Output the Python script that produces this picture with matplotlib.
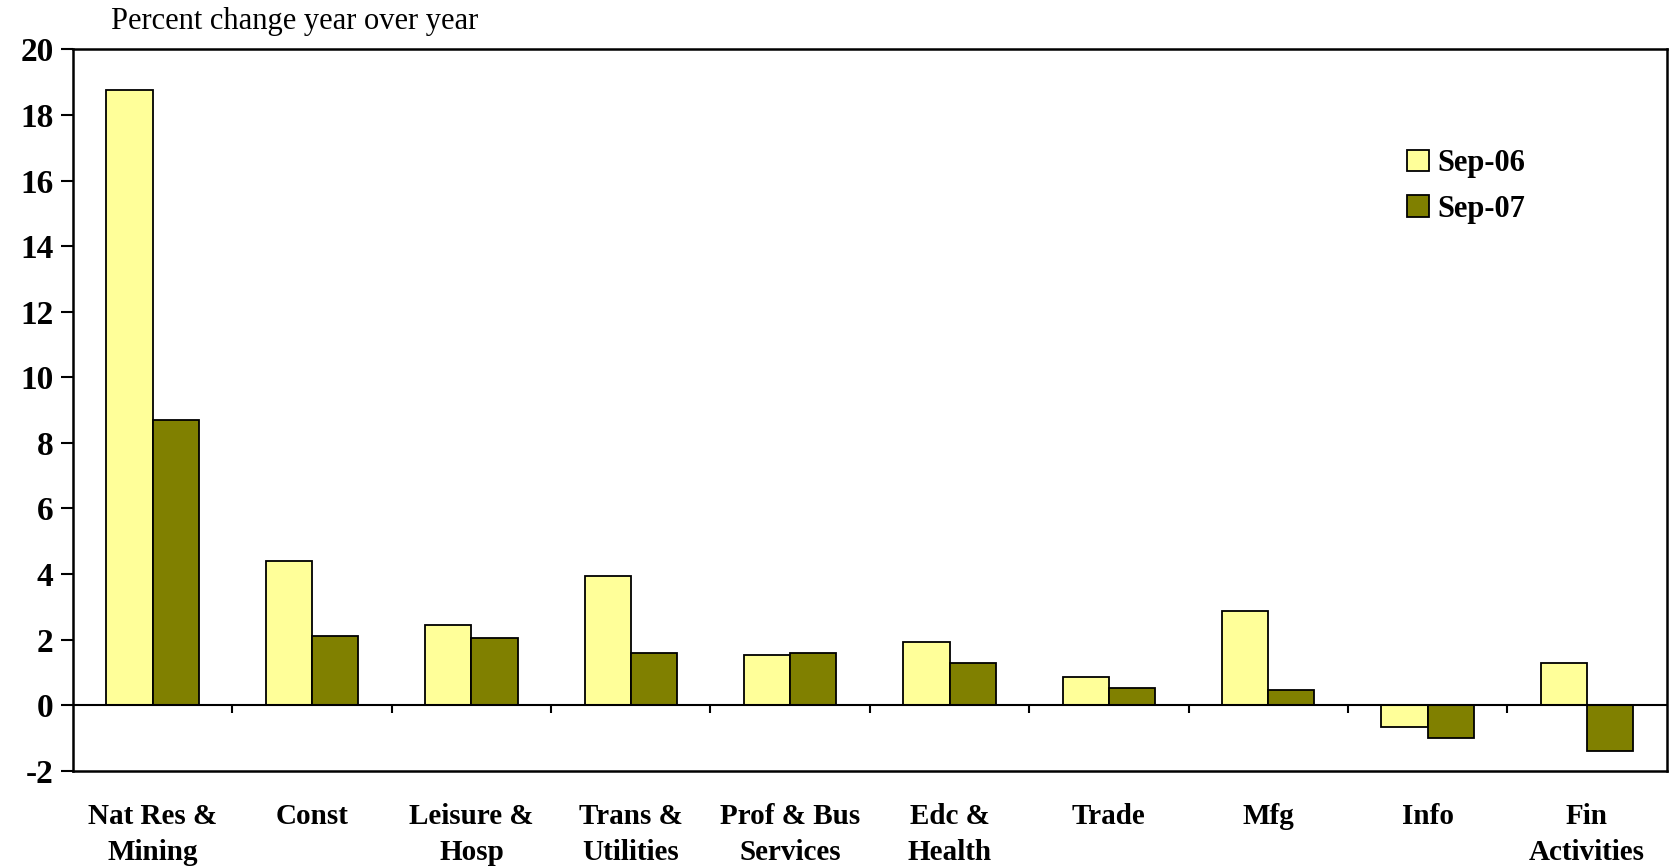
import matplotlib
matplotlib.use("Agg")
import matplotlib.pyplot as plt
import numpy as np

CATEGORIAS = ["Nat Res &\nMining", "Const", "Leisure &\nHosp", "Trans &\nUtilities",
              "Prof & Bus\nServices", "Edc &\nHealth", "Trade", "Mfg", "Info",
              "Fin\nActivities"]
SEP06 = [18.75, 4.4, 2.45, 3.95, 1.53, 1.92, 0.85, 2.86, -0.68, 1.3]
SEP07 = [8.7, 2.1, 2.05, 1.6, 1.6, 1.3, 0.52, 0.46, -1.0, -1.4]
SERIES = ["Sep-06", "Sep-07"]
YTICKS = list(range(-2, 21, 2))

COR_06 = "#FFFF99"
COR_07 = "#808000"
SERIF = "Liberation Serif"

fig = plt.figure(figsize=(16.75, 8.66), dpi=100)
ax = fig.add_axes([0.0436, 0.110, 0.9514, 0.833])

x = np.arange(len(CATEGORIAS))
largura = 0.29
ax.bar(x - largura / 2, SEP06, largura, color=COR_06, edgecolor="black",
       linewidth=1.3, label=SERIES[0], zorder=3)
ax.bar(x + largura / 2, SEP07, largura, color=COR_07, edgecolor="black",
       linewidth=1.3, label=SERIES[1], zorder=3)

# linha do zero com marcas entre categorias
ax.axhline(0, color="black", linewidth=1.5, zorder=4)
ax.vlines(np.arange(0.5, len(CATEGORIAS) - 1), -0.25, 0, color="black",
          linewidth=1.5, zorder=4)

ax.set_xlim(-0.5, len(CATEGORIAS) - 0.5)
ax.set_ylim(-2, 20)
ax.set_yticks(YTICKS)
ax.set_yticklabels([str(v) for v in YTICKS], fontfamily=SERIF,
                   fontweight="bold", fontsize=24)
ax.set_xticks(x)
ax.set_xticklabels(CATEGORIAS, fontfamily=SERIF, fontweight="bold",
                   fontsize=21, linespacing=1.42)
ax.tick_params(axis="x", length=0, pad=23)
ax.tick_params(axis="y", direction="out", length=9, width=1.5, pad=5)

for lado in ax.spines.values():
    lado.set_linewidth(1.8)

fig.text(0.066, 0.975, "Percent change year over year", fontfamily=SERIF,
         fontsize=22, ha="left", va="center")

ax.legend(loc="upper left", bbox_to_anchor=(0.82, 0.9), frameon=False,
          prop={"family": SERIF, "weight": "bold", "size": 22},
          handlelength=0.7, handleheight=0.7, handletextpad=0.3,
          labelspacing=0.55)

fig.savefig("out.png", dpi=100)
